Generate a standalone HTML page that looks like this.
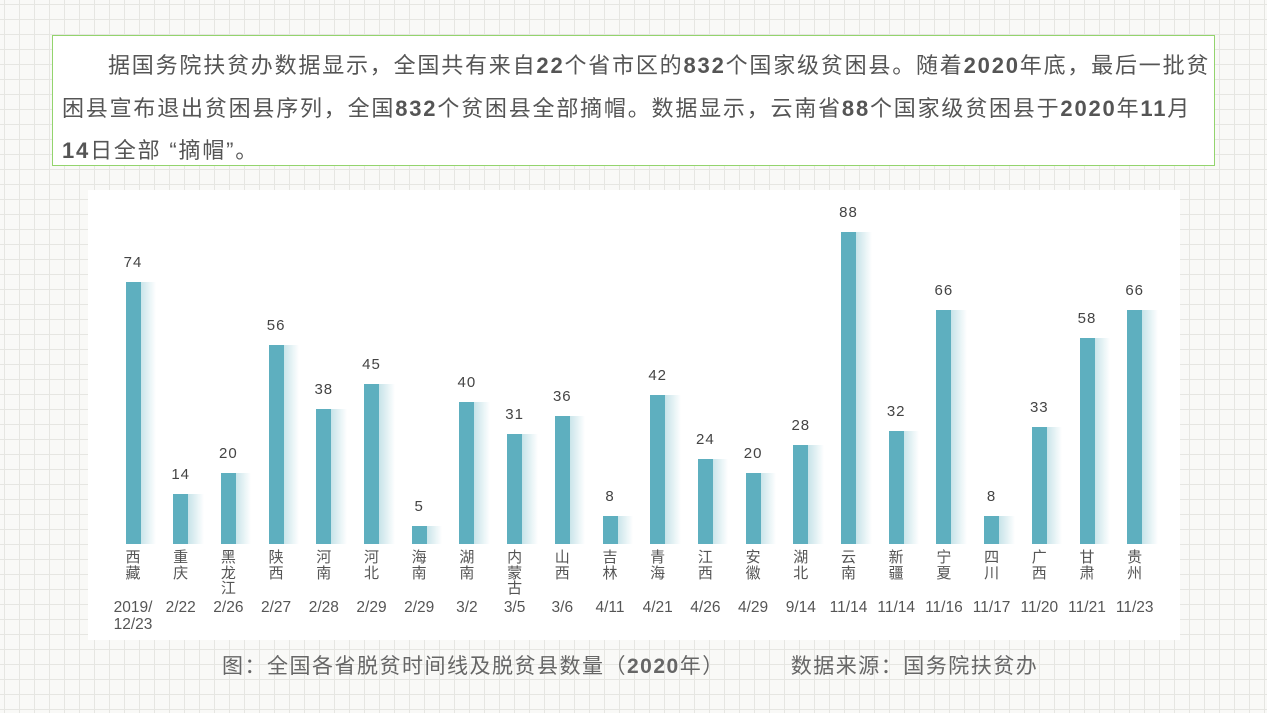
<!DOCTYPE html>
<html><head><meta charset="utf-8"><style>
body{margin:0;width:1267px;height:713px;overflow:hidden;position:relative;
background-color:#f9f9f7;
background-image:linear-gradient(#e6e6e2 1px,transparent 1px),linear-gradient(90deg,#e6e6e2 1px,transparent 1px);
background-size:15px 15px;background-position:4px 4px;
font-family:"Liberation Sans","Noto Sans CJK SC",sans-serif;}
.box{position:absolute;left:52px;top:35px;width:1161px;height:129px;border:1.5px solid #93d46d;background:#fff;}
.ln{position:absolute;white-space:nowrap;font-size:22px;letter-spacing:1.8px;color:#555;}
.ln b{font-weight:bold;}
.panel{position:absolute;left:88px;top:190px;width:1092px;height:450px;background:#fff;}
.bar{position:absolute;width:15px;background:#5eafbf;}
.sh{position:absolute;width:16px;background:linear-gradient(90deg,rgba(94,175,191,0.35),rgba(94,175,191,0));}
.v{position:absolute;width:50px;text-align:center;font-size:15px;color:#444;letter-spacing:1px;}
.p{position:absolute;width:20px;text-align:center;font-size:15px;line-height:15.5px;color:#555;}
.d{position:absolute;width:60px;text-align:center;font-size:15.5px;line-height:17px;color:#555;}
.cap{position:absolute;top:650px;left:222px;font-size:21px;letter-spacing:1.5px;color:#666;white-space:nowrap;}
</style></head><body>
<div class="box"></div>
<div class="ln" style="left:108px;top:48px">据国务院扶贫办数据显示，全国共有来自<b>22</b>个省市区的<b>832</b>个国家级贫困县。随着<b>2020</b>年底，最后一批贫</div>
<div class="ln" style="left:62px;top:91px">困县宣布退出贫困县序列，全国<b>832</b>个贫困县全部摘帽。数据显示，云南省<b>88</b>个国家级贫困县于<b>2020</b>年<b>11</b>月</div>
<div class="ln" style="left:62px;top:133px"><b>14</b>日全部 “摘帽”。</div>
<div class="panel"></div>
<div id="c"></div>
<div class="cap">图：全国各省脱贫时间线及脱贫县数量（<b>2020</b>年）&nbsp;&nbsp;&nbsp;&nbsp;&nbsp;&nbsp;&nbsp;&nbsp;&nbsp;数据来源：国务院扶贫办</div>
<script>
var d=[[74,"西藏","2019/<br>12/23"],[14,"重庆","2/22"],[20,"黑龙江","2/26"],[56,"陕西","2/27"],[38,"河南","2/28"],[45,"河北","2/29"],[5,"海南","2/29"],[40,"湖南","3/2"],[31,"内蒙古","3/5"],[36,"山西","3/6"],[8,"吉林","4/11"],[42,"青海","4/21"],[24,"江西","4/26"],[20,"安徽","4/29"],[28,"湖北","9/14"],[88,"云南","11/14"],[32,"新疆","11/14"],[66,"宁夏","11/16"],[8,"四川","11/17"],[33,"广西","11/20"],[58,"甘肃","11/21"],[66,"贵州","11/23"]];
var h="";
d.forEach(function(r,i){var c=133+i*47.7,H=r[0]*3.545,t=544-H;
h+='<div class="sh" style="left:'+(c+7)+'px;top:'+t+'px;height:'+H+'px"></div>';
h+='<div class="bar" style="left:'+(c-7.5)+'px;top:'+t+'px;height:'+H+'px"></div>';
h+='<div class="v" style="left:'+(c-25)+'px;top:'+(t-28)+'px">'+r[0]+'</div>';
h+='<div class="p" style="left:'+(c-10)+'px;top:550px">'+r[1].split("").join("<br>")+'</div>';
h+='<div class="d" style="left:'+(c-30)+'px;top:599px">'+r[2]+'</div>';});
document.getElementById("c").innerHTML=h;
</script>
</body></html>
